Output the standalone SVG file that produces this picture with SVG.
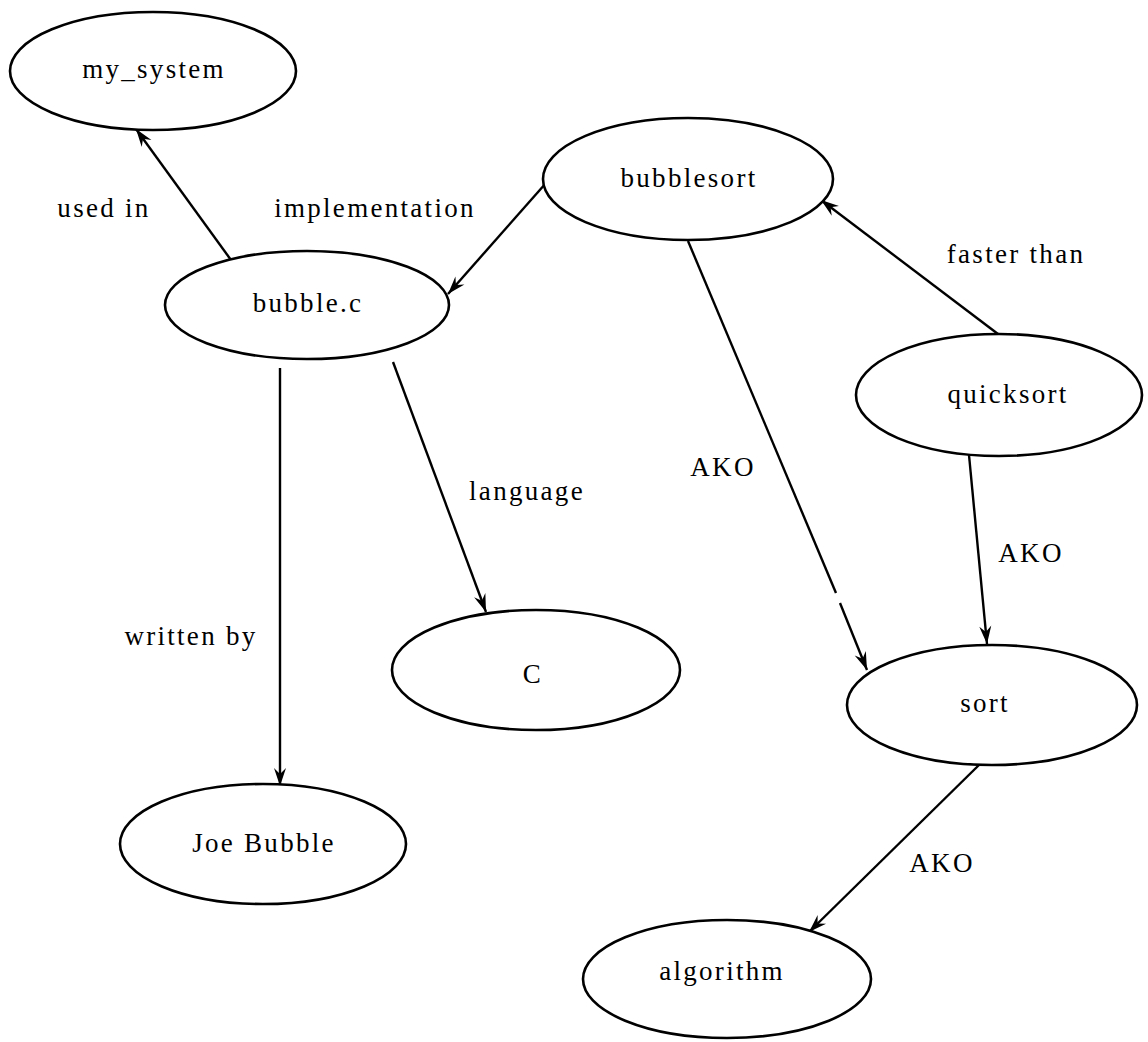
<svg xmlns="http://www.w3.org/2000/svg" width="1148" height="1042" viewBox="0 0 1148 1042">
  <style>
    .node ellipse { fill: #ffffff; stroke: #000000; stroke-width: 2.6; }
    text { font-size: 27px; letter-spacing: 2.3px; fill: #000000; text-anchor: middle; }
    .edges line { stroke: #000000; stroke-width: 2.4; fill: none; }
  </style>
  <defs>
    <marker id="arrow" markerUnits="userSpaceOnUse" markerWidth="24" markerHeight="16" refX="0" refY="0" viewBox="-20 -8 22 16" orient="auto">
      <path d="M0,0 L-18,-6 L-12,0 L-18,6 Z" fill="#000000"/>
    </marker>
  </defs>

  <rect width="1148" height="1042" fill="#ffffff"/>

  <g id="graph" font-family="Liberation Serif, serif">
    <!-- connectors -->
    <g id="edges" class="edges">
      <line x1="231" y1="260" x2="136" y2="129" marker-end="url(#arrow)"/>
      <line x1="546" y1="183" x2="448" y2="294" marker-end="url(#arrow)"/>
      <line x1="393" y1="362" x2="486" y2="612" marker-end="url(#arrow)"/>
      <line x1="280" y1="368" x2="280" y2="786" marker-end="url(#arrow)"/>
      <line x1="688" y1="241" x2="836" y2="593"/>
      <line x1="840" y1="603" x2="867" y2="670" marker-end="url(#arrow)"/>
      <line x1="998" y1="334" x2="821" y2="200" marker-end="url(#arrow)"/>
      <line x1="969" y1="455" x2="987" y2="644" marker-end="url(#arrow)"/>
      <line x1="979" y1="765" x2="809" y2="932" marker-end="url(#arrow)"/>
    </g>

    <!-- edge labels -->
    <g id="edge-labels">
      <text x="104" y="217">used in</text>
      <text x="375" y="217">implementation</text>
      <text x="1016" y="263">faster than</text>
      <text x="723" y="476">AKO</text>
      <text x="527" y="500">language</text>
      <text x="1031" y="562">AKO</text>
      <text x="191" y="645">written by</text>
      <text x="942" y="872">AKO</text>
    </g>

    <!-- nodes -->
    <g id="my_system" class="node">
      <ellipse cx="153" cy="71" rx="143" ry="59"/>
      <text x="154" y="78">my_system</text>
    </g>
    <g id="bubblesort" class="node">
      <ellipse cx="688" cy="179" rx="145" ry="61"/>
      <text x="689" y="187">bubblesort</text>
    </g>
    <g id="bubble_c" class="node">
      <ellipse cx="307" cy="305" rx="142" ry="54"/>
      <text x="308" y="312">bubble.c</text>
    </g>
    <g id="quicksort" class="node">
      <ellipse cx="999" cy="395" rx="143" ry="61"/>
      <text x="1008" y="403">quicksort</text>
    </g>
    <g id="C" class="node">
      <ellipse cx="536" cy="670" rx="144" ry="60"/>
      <text x="533" y="683">C</text>
    </g>
    <g id="sort" class="node">
      <ellipse cx="992" cy="705" rx="145" ry="60"/>
      <text x="985" y="712">sort</text>
    </g>
    <g id="joe_bubble" class="node">
      <ellipse cx="263" cy="844" rx="143" ry="60"/>
      <text x="264" y="852">Joe Bubble</text>
    </g>
    <g id="algorithm" class="node">
      <ellipse cx="727" cy="979" rx="144" ry="59"/>
      <text x="722" y="980">algorithm</text>
    </g>
  </g>
</svg>
